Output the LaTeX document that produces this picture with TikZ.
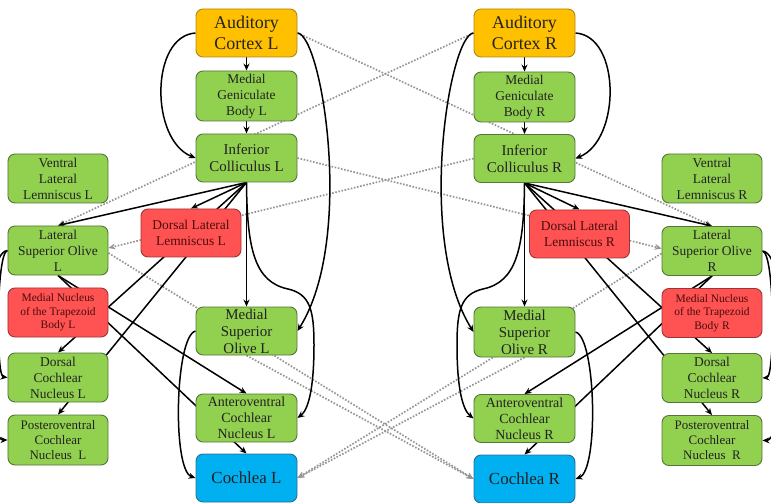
\documentclass[tikz,border=0pt]{standalone}
\usepackage{fontspec}
\setmainfont{Liberation Serif}
\usetikzlibrary{arrows.meta}
\pgfdeclarelayer{bg}
\pgfsetlayers{bg,main}
\definecolor{gfill}{HTML}{92D050}
\definecolor{gline}{HTML}{56753A}
\definecolor{ofill}{HTML}{FFC000}
\definecolor{oline}{HTML}{B08A10}
\definecolor{rfill}{HTML}{FF5252}
\definecolor{rline}{HTML}{A03434}
\definecolor{bfill}{HTML}{00B0F0}
\definecolor{bline}{HTML}{2C6E96}
\definecolor{txt}{HTML}{222222}
\definecolor{rtxt}{HTML}{4A0C0C}
\definecolor{dotc}{HTML}{959595}
\begin{document}
\begin{tikzpicture}[x=1bp,y=-1bp,
  box/.style={draw=gline, fill=gfill, rounded corners=7bp, line width=0.9bp,
    minimum width=101bp, minimum height=49bp, inner sep=1bp, align=center, text=txt,
    font=\fontsize{13.5}{16}\selectfont},
  sidebox/.style={box, minimum width=100bp},
  redbox/.style={fill=rfill, draw=rline, text=rtxt},
  cortex/.style={box, fill=ofill, draw=oline, minimum height=48bp, font=\fontsize{18}{21}\selectfont},
  cochlea/.style={box, fill=bfill, draw=bline, minimum height=48bp, font=\fontsize{17}{20}\selectfont},
  midfont/.style={font=\fontsize{15}{17}\selectfont},
  smallfont/.style={font=\fontsize{11.5}{13.5}\selectfont},
  pvfont/.style={font=\fontsize{13}{15}\selectfont},
  arr/.style={-{Stealth[length=7bp,width=6bp]}, line width=1.5bp, black},
  dotarr/.style={-{Stealth[length=7bp,width=6bp]}, line width=1.7bp, dotc, dash pattern=on 1.6bp off 1.6bp}
]
\useasboundingbox (0,0) rectangle (771,503);

% ---------- left side nodes ----------
\node[cortex] (ACL) at (246.5,33) {Auditory\\Cortex L};
\node[box, minimum height=50bp] (MGBL) at (246.5,96) {Medial\\Geniculate\\Body L};
\node[box, midfont, minimum height=48bp] (ICL) at (246.5,158) {Inferior\\Colliculus L};
\node[box, redbox, minimum height=48bp, minimum width=100bp] (DLLL) at (191,233) {Dorsal Lateral\\Lemniscus L};
\node[box, midfont, minimum height=48bp] (MSOL) at (246.5,331) {Medial\\Superior\\Olive L};
\node[box, minimum height=48bp, font=\fontsize{14}{16}\selectfont] (AVCNL) at (246.5,418) {Anteroventral\\Cochlear\\Nucleus L};
\node[cochlea] (CL) at (246.5,478) {Cochlea L};
\node[sidebox] (VLLL) at (58,178.5) {Ventral\\Lateral\\Lemniscus L};
\node[sidebox] (LSOL) at (58,250.5) {Lateral\\Superior Olive\\L};
\node[sidebox, redbox, smallfont] (MNTBL) at (58,312.5) {Medial Nucleus\\of the Trapezoid\\Body L};
\node[sidebox] (DCNL) at (58,377.5) {Dorsal\\Cochlear\\Nucleus L};
\node[sidebox, pvfont, minimum height=50bp] (PVCNL) at (58,440) {Posteroventral\\Cochlear\\Nucleus\hspace{0.5em}L};

% ---------- right side nodes ----------
\node[cortex] (ACR) at (524.5,33) {Auditory\\Cortex R};
\node[box, minimum height=50bp] (MGBR) at (524.5,97) {Medial\\Geniculate\\Body R};
\node[box, midfont, minimum height=48bp] (ICR) at (524.5,158.5) {Inferior\\Colliculus R};
\node[box, redbox, minimum height=48bp, minimum width=100bp] (DLLR) at (579.5,234) {Dorsal Lateral\\Lemniscus R};
\node[box, midfont, minimum height=50bp] (MSOR) at (524.5,332) {Medial\\Superior\\Olive R};
\node[box, minimum height=48bp, font=\fontsize{14}{16}\selectfont] (AVCNR) at (524.5,418.5) {Anteroventral\\Cochlear\\Nucleus R};
\node[cochlea] (CR) at (524.5,479) {Cochlea R};
\node[sidebox] (VLLR) at (712,178.5) {Ventral\\Lateral\\Lemniscus R};
\node[sidebox] (LSOR) at (712,251) {Lateral\\Superior Olive\\R};
\node[sidebox, redbox, smallfont] (MNTBR) at (712,313) {Medial Nucleus\\of the Trapezoid\\Body R};
\node[sidebox] (DCNR) at (712,378) {Dorsal\\Cochlear\\Nucleus R};
\node[sidebox, pvfont, minimum height=50bp] (PVCNR) at (712,440.5) {Posteroventral\\Cochlear\\Nucleus\hspace{0.5em}R};

\begin{pgfonlayer}{bg}
% ---------- dotted crossing connections ----------
\draw[dotarr] (ACL.east) -- (LSOR.north);
\draw[dotarr] (ACR.west) -- (LSOL.north);
\draw[dotarr] (ICL.east) -- ([yshift=2.5bp]LSOR.west);
\draw[dotarr] (ICR.west) -- ([yshift=2.5bp]LSOL.east);
\draw[dotarr] ([yshift=-2.5bp]LSOL.east) -- (CR.west);
\draw[dotarr] (MSOL.south) -- (CR.west);
\draw[dotarr] ([yshift=-2.5bp]LSOR.west) -- (CL.east);
\draw[dotarr] (MSOR.south) -- (CL.east);

% ---------- left solid connections ----------
\draw[arr] (ACL) -- (MGBL);
\draw[arr] (MGBL) -- (ICL);
\draw[arr] (ACL.west) .. controls (150,36) and (150,140) .. (ICL.west);
\draw[arr] (ACL.east) .. controls (322,35) and (355,240) .. (MSOL.east);
\draw[arr] (ICL.south) -- (LSOL.north);
\draw[arr] (ICL.south) -- (DLLL.north);
\draw[arr] (ICL.south) -- (DCNL.north);
\draw[arr] (ICL.south) -- (PVCNL.north);
\draw[arr] (ICL.south) -- (MSOL.north);
\draw[arr] (ICL.south) .. controls (247,250) and (255,282) .. (288,289)
  .. controls (310,294) and (314,310) .. (314,345)
  .. controls (314,390) and (308,410) .. (AVCNL.east);
\draw[arr] (LSOL.west) .. controls (-4,252) and (-4,376) .. (DCNL.west);
\draw[arr] (LSOL.west) .. controls (-20,252) and (-16,440) .. (PVCNL.west);
\draw[arr] (LSOL.south) -- (AVCNL.north);
\draw[arr] (LSOL.south) -- (CL.north);
\draw[arr] (MSOL.west) .. controls (175,336) and (172,470) .. (CL.west);

% ---------- right solid connections ----------
\draw[arr] (ACR) -- (MGBR);
\draw[arr] (MGBR) -- (ICR);
\draw[arr] (ACR.east) .. controls (621,36) and (621,140) .. (ICR.east);
\draw[arr] (ACR.west) .. controls (449,35) and (416,240) .. (MSOR.west);
\draw[arr] (ICR.south) -- (LSOR.north);
\draw[arr] (ICR.south) -- (DLLR.north);
\draw[arr] (ICR.south) -- (DCNR.north);
\draw[arr] (ICR.south) -- (PVCNR.north);
\draw[arr] (ICR.south) -- (MSOR.north);
\draw[arr] (ICR.south) .. controls (524,250) and (516,282) .. (483,289)
  .. controls (461,294) and (457,310) .. (457,345)
  .. controls (457,390) and (463,410) .. (AVCNR.west);
\draw[arr] (LSOR.east) .. controls (775,253) and (775,377) .. (DCNR.east);
\draw[arr] (LSOR.east) .. controls (791,253) and (787,440) .. (PVCNR.east);
\draw[arr] (LSOR.south) -- (AVCNR.north);
\draw[arr] (LSOR.south) -- (CR.north);
\draw[arr] (MSOR.east) .. controls (596,337) and (599,470) .. (CR.east);
\end{pgfonlayer}
\end{tikzpicture}
\end{document}
